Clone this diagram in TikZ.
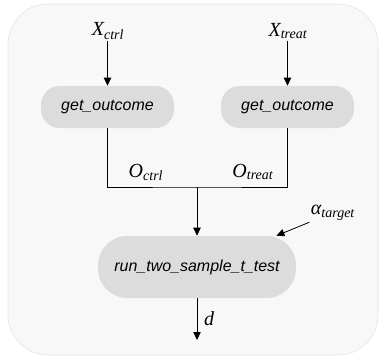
\documentclass[tikz,border=0pt]{standalone}
\usepackage{fontspec}
\setsansfont{Liberation Sans}
\newfontfamily\labelfont{Liberation Serif}
\usetikzlibrary{positioning, calc, arrows.meta}

\definecolor{panelfill}{HTML}{F8F8F8}
\definecolor{panelline}{HTML}{E2E2E2}
\definecolor{funcfill}{HTML}{DCDCDC}

% variable name with a subscript, set in an italic serif
\newcommand{\varname}[2]{#1\textsubscript{#2}}

\tikzset{
  func/.style={fill=funcfill, rounded corners=14pt, minimum width=99.75pt, minimum height=31.5pt, inner sep=0pt, font=\sffamily\itshape\fontsize{12}{14}\selectfont},
  bigfunc/.style={func, rounded corners=22pt, minimum width=148.5pt, minimum height=46.5pt},
  var/.style={inner sep=1pt, font=\labelfont\itshape\fontsize{15}{17}\selectfont},
  flow/.style={-{Triangle[length=6pt, width=5.5pt]}, line width=0.6pt},
}

\begin{document}
\begin{tikzpicture}[x=0.75pt, y=-0.75pt]
			\useasboundingbox (0,0) rectangle (379,358);
			\draw [panelline, fill=panelfill, rounded corners=30pt] (8,4) rectangle (378,355);

			\node (xctrl) [var] at (108,31) {\varname{X}{ctrl}};
			\node (xtreat) [var] at (288,31) {\varname{X}{treat}};
			\node (getc) [func] at (107.5,107) {get\_outcome};
			\node (gett) [func] at (287.5,107) {get\_outcome};
			\node (ttest) [bigfunc] at (197,267) {run\_two\_sample\_t\_test};
			\node (alpha) [var] at (333,213) {\varname{α}{target}};
			\coordinate (join) at (197,187);
			\coordinate (out) at (197,340);

			\draw [flow] (xctrl.south -| getc) -- (getc);
			\draw [flow] (xtreat.south -| gett) -- (gett);
			\draw [line width=0.6pt] (getc) |- (join) -| (gett);
			\node (octrl) [var] at (146,172) {\varname{O}{ctrl}};
			\node (otreat) [var] at (253,172) {\varname{O}{treat}};
			\draw [flow] (join) -- (ttest);
			\draw [flow] (alpha.south west) -- ($(ttest.north)!0.8!(ttest.north east)$);
			\draw [flow] (ttest) -- (out) node (dlbl) [var, midway, right=4pt] {d};
		\end{tikzpicture}
\end{document}
